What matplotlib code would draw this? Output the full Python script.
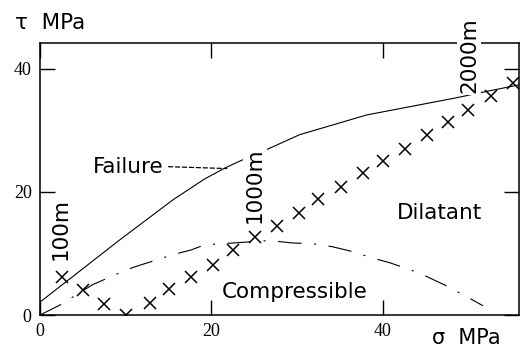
import matplotlib
matplotlib.use('Agg')
import matplotlib.pyplot as plt

plt.rcParams['lines.scale_dashes'] = False

# crosses (sigma, tau) in MPa
sigma_pts = [2.6, 5.0, 7.5, 10.0, 12.8, 15.0, 17.6, 20.2, 22.5, 25.1, 27.6,
             30.2, 32.4, 35.1, 37.7, 40.0, 42.6, 45.2, 47.6, 50.0, 52.6, 55.2]
tau_pts = [6.1, 4.1, 1.8, 0.0, 2.0, 4.3, 6.1, 8.2, 10.5, 12.6, 14.4,
           16.6, 18.9, 20.8, 23.0, 25.1, 27.0, 29.2, 31.3, 33.3, 35.6, 37.7]

# failure envelope
fail_sigma = [0.0, 9.3, 15.5, 19.2, 21.6, 23.3, 26.8, 30.3, 38.1, 48.6, 51.3, 55.9]
fail_tau = [2.1, 12.2, 18.7, 22.1, 23.9, 25.0, 27.1, 29.3, 32.5, 35.3, 36.1, 37.4]

# compressible / dilatant boundary
comp_sigma = [0.0, 2.3, 6.1, 8.7, 10.8, 12.8, 15.5, 17.7, 19.2, 22.5, 26.8,
              29.5, 31.7, 34.1, 36.5, 38.7, 40.8, 43.5, 45.2, 47.2, 49.9, 51.7]
comp_tau = [0.0, 1.6, 4.9, 6.5, 7.7, 8.6, 9.8, 10.6, 11.4, 11.7, 12.1,
            11.7, 11.6, 11.1, 10.3, 9.3, 8.5, 7.2, 6.2, 4.9, 2.9, 1.5]

ticks = [0, 20, 40]
sans = 'DejaVu Sans'
serif = 'Liberation Serif'

fig = plt.figure(figsize=(5.21, 3.49), dpi=100)
ax = fig.add_axes([0.0768, 0.0974, 0.9194, 0.7794])

ax.plot(fail_sigma, fail_tau, color='black', lw=0.8)
ax.plot(comp_sigma, comp_tau, color='black', lw=0.8,
        linestyle=(0, (17, 9, 1.5, 9)))
ax.plot(sigma_pts, tau_pts, 'x', color='black', markersize=8.5,
        markeredgewidth=1.1)

ax.set_xlim(0, 55.9)
ax.set_ylim(0, 44.2)
ax.set_xticks(ticks)
ax.set_yticks(ticks)
ax.tick_params(direction='in', length=11, width=1, top=True, right=True,
               labelsize=13, pad=6)
for lab in ax.get_xticklabels() + ax.get_yticklabels():
    lab.set_fontfamily(serif)
for s in ax.spines.values():
    s.set_linewidth(1.1)

fs = 15.5
ax.text(6.2, 23.1, 'Failure', fontsize=fs, family=sans, va='baseline')
ax.annotate('', xy=(21.8, 23.8), xytext=(15.0, 24.1),
            arrowprops=dict(arrowstyle='-', linestyle=(0, (3, 2)), lw=0.9,
                            shrinkA=0, shrinkB=0))
ax.text(41.6, 15.6, 'Dilatant', fontsize=fs, family=sans, va='baseline')
ax.text(21.2, 2.8, 'Compressible', fontsize=fs, family=sans, va='baseline')

box = dict(facecolor='white', edgecolor='none', pad=1.5)
ax.text(2.4, 14.0, '100m', rotation=90, fontsize=fs, family=sans,
        ha='center', va='center')
ax.text(25.1, 21.1, '1000m', rotation=90, fontsize=fs, family=sans,
        ha='center', va='center', bbox=box, zorder=5)
ax.text(50.1, 42.3, '2000m', rotation=90, fontsize=fs, family=sans,
        ha='center', va='center', bbox=box, zorder=5, clip_on=False)

fig.text(15 / 521, 1 - 23 / 349, '\u03c4  MPa', fontsize=fs, family=sans,
         va='center')
fig.text(432 / 521, 1 - 338 / 349, '\u03c3  MPa', fontsize=15, family=sans,
         va='center')

fig.savefig('out.png', dpi=100)
